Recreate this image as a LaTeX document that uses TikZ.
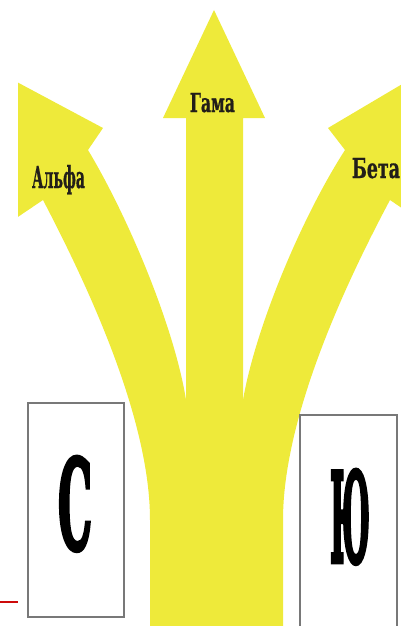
\documentclass[tikz,border=0pt]{standalone}
\usepackage{fontspec}
\usepackage{graphicx}
\newfontfamily\slabfnt[FakeBold=1]{DejaVu Serif}
\newfontfamily\heavyfnt[FakeBold=4]{DejaVu Serif}
\definecolor{arrowyellow}{RGB}{238,234,58}
\definecolor{boxgray}{RGB}{120,120,120}
\definecolor{txtdark}{RGB}{34,30,25}
\definecolor{linered}{RGB}{205,10,10}
\tikzset{
  yel/.style={fill=arrowyellow, draw=none},
  lbl/.style={font=\slabfnt\bfseries, text=txtdark, inner sep=0pt, anchor=base},
  letterbox/.style={draw=boxgray, line width=1.3pt, fill=white, inner sep=0pt},
  bigletter/.style={font=\heavyfnt\bfseries, text=black, inner sep=0pt, anchor=base}
}
\begin{document}
\begin{tikzpicture}[x=1pt,y=-1pt]
\useasboundingbox (0,0) rectangle (401,626);
\begin{scope}
\clip (18,0) rectangle (401,626);
% centre arrow
\fill[yel] (214,10) -- (265,118) -- (243,118) -- (243,626) -- (186,626) -- (186,118) -- (163,118) -- cycle;
% left arrow
\fill[yel] (88,150) -- (103,128) -- (0,73) -- (0,229) -- (43,200)
  .. controls (90,290) and (150,420) .. (150,520) -- (150,626) -- (200,626) -- (200,400) -- (186,400)
  .. controls (175,330) and (130,220) .. (88,150) -- cycle;
% right arrow
\fill[yel] (345,150) -- (328,128) -- (431,67) -- (431,228) -- (390,200)
  .. controls (342,290) and (283,420) .. (283,520) -- (283,626) -- (230,626) -- (230,400) -- (243,400)
  .. controls (255,330) and (300,220) .. (345,150) -- cycle;
\end{scope}
% labels
\node[lbl] (alfa) at (58.5,188) {\resizebox{53pt}{23pt}{Альфа}};
\node[lbl] (gama) at (212.5,112) {\resizebox{45pt}{19pt}{Гама}};
\node[lbl] (beta) at (376,178) {\resizebox{48pt}{20pt}{Бета}};
% boxes
\node[letterbox, minimum width=96pt, minimum height=214pt] (boxS) at (76,510) {};
\node[bigletter] (letS) at (75,549) {\resizebox{34pt}{92pt}{С}};
\node[letterbox, minimum width=97pt, minimum height=215pt] (boxJu) at (348.5,522.5) {};
\node[bigletter] (letJu) at (350,562) {\resizebox{40pt}{92pt}{Ю}};
% red mark
\coordinate (r1) at (0,602);
\coordinate (r2) at (18,602);
\draw[linered, line width=2pt] (r1) -- (r2);
\end{tikzpicture}
\end{document}
